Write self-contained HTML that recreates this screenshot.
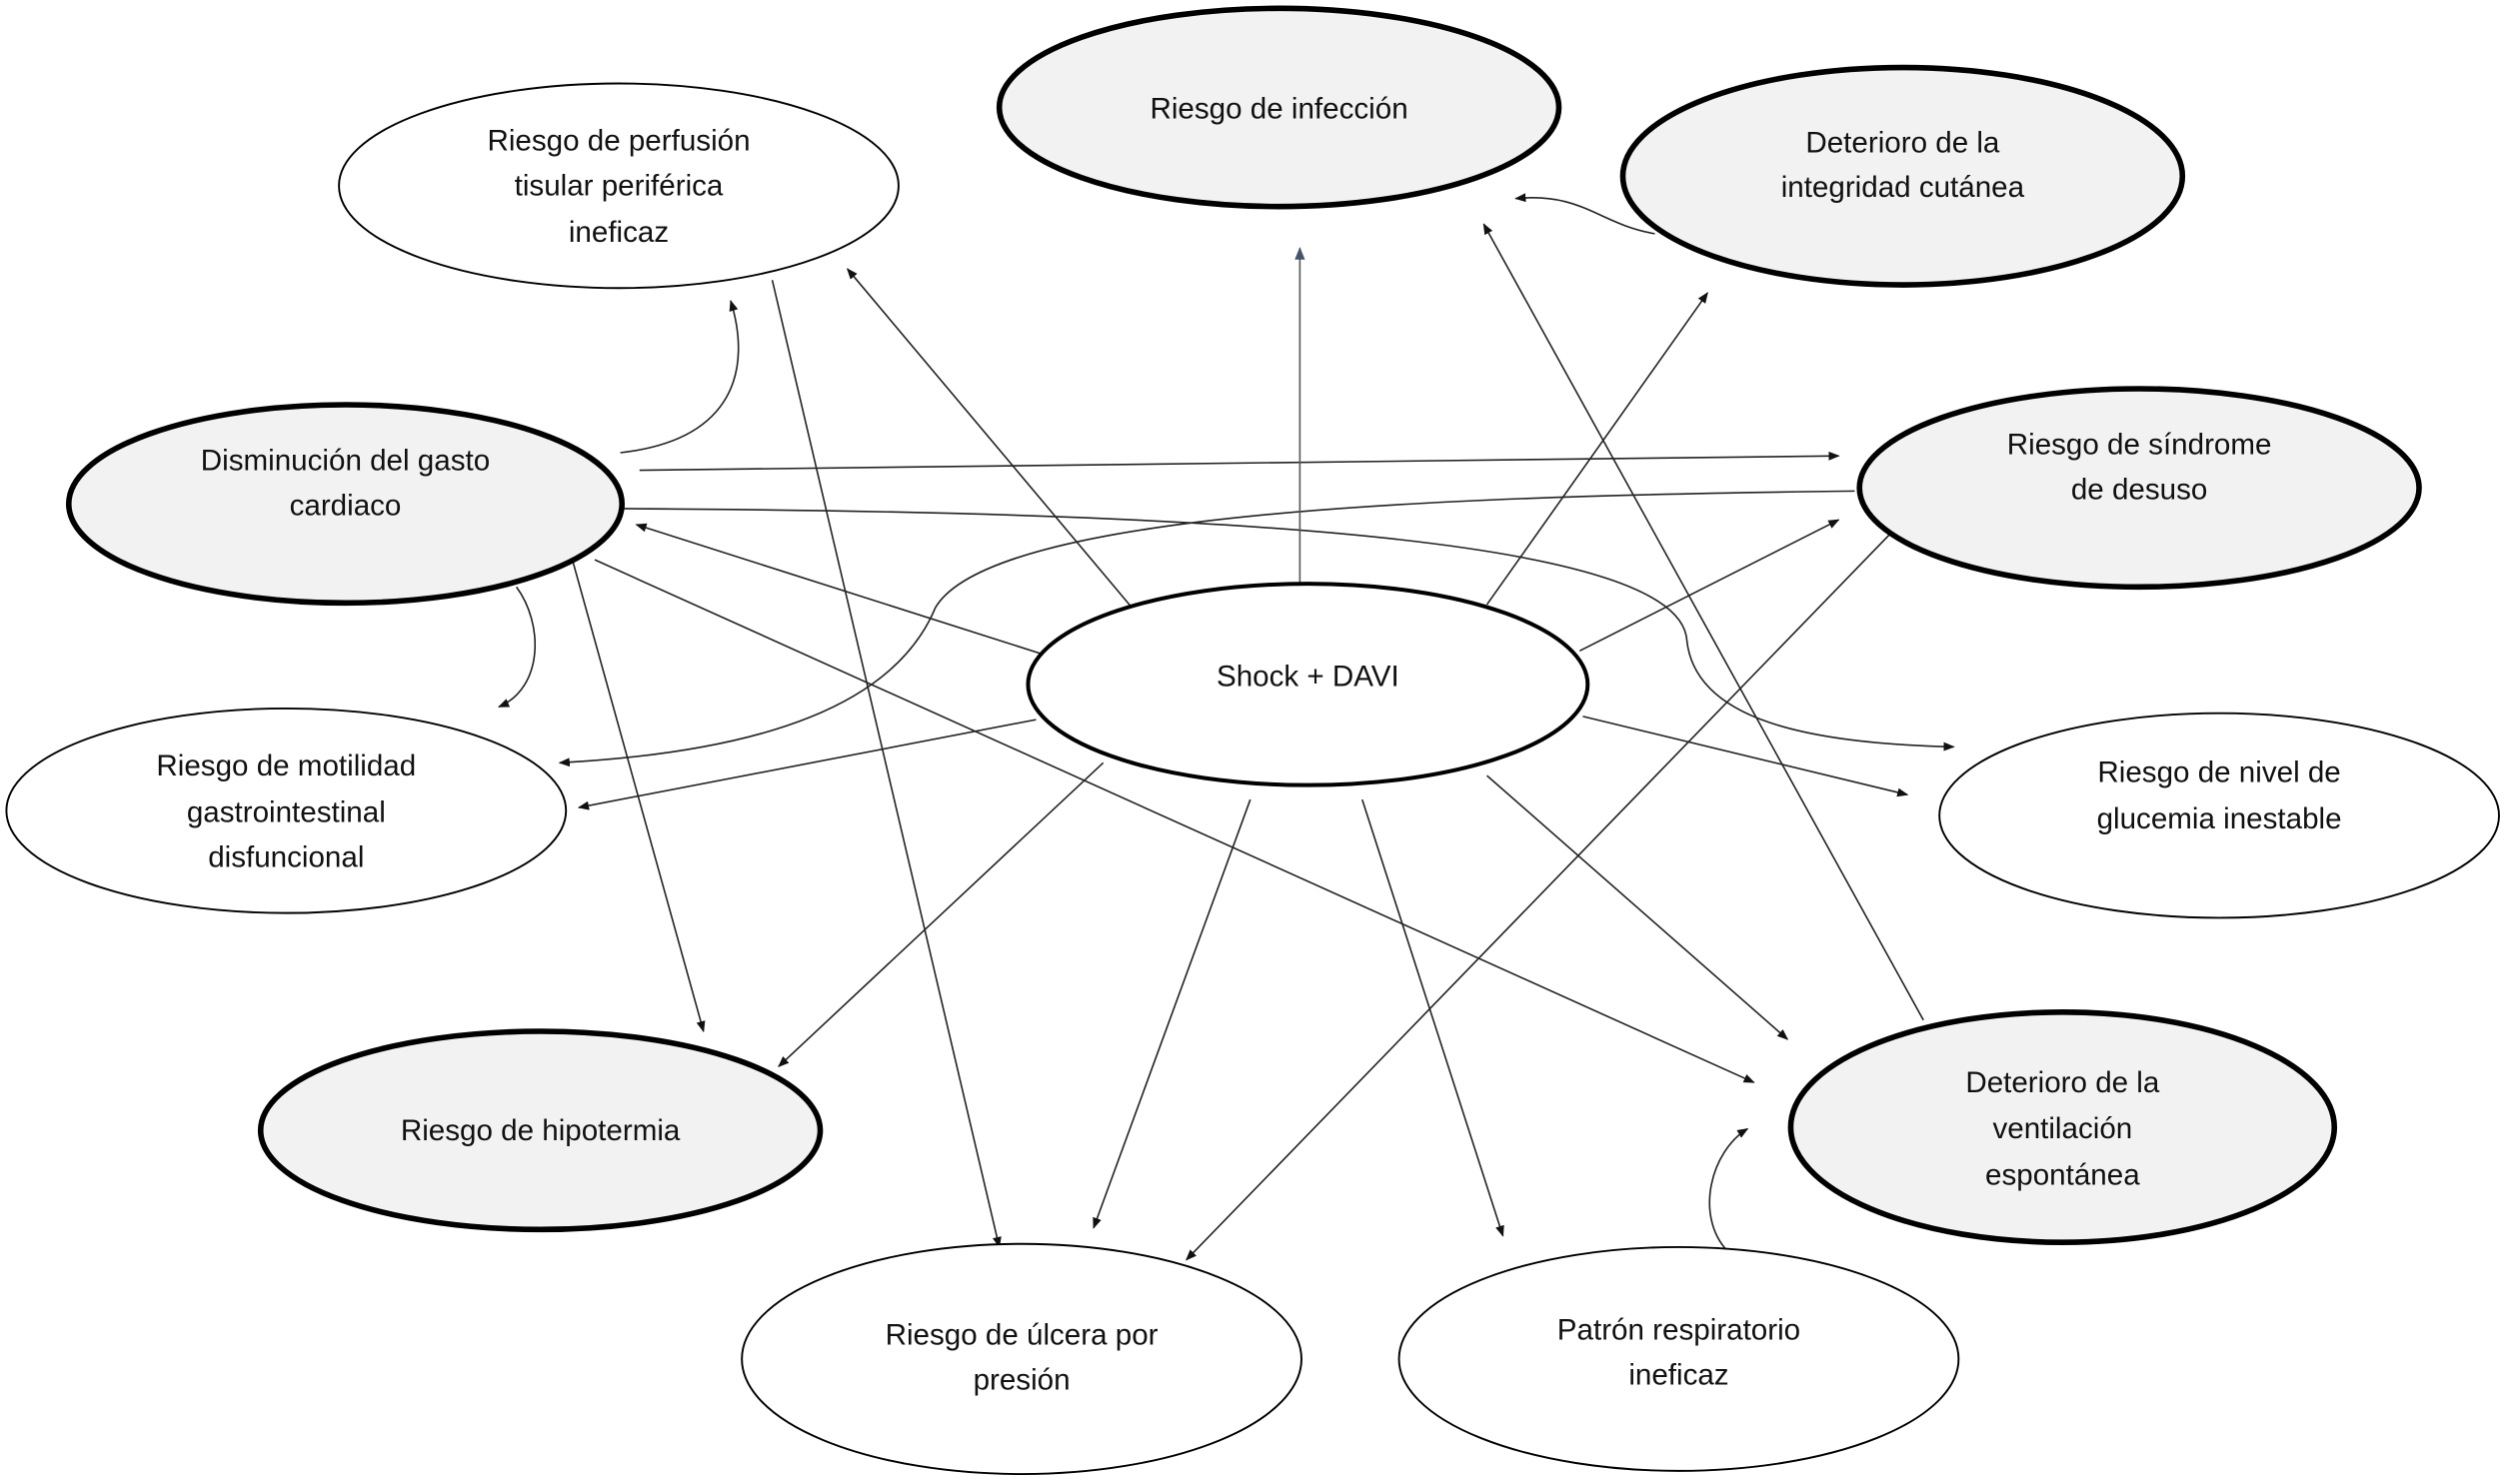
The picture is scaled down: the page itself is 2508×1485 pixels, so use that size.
<!DOCTYPE html>
<html><head><meta charset="utf-8"><style>
html,body{margin:0;padding:0;background:#fff;}
svg{display:block;}
text{font-family:"Liberation Sans",sans-serif;font-size:18.5px;fill:#111;text-anchor:middle;}
</style></head><body>
<svg width="2508" height="1485" viewBox="0 0 1568 928" xmlns="http://www.w3.org/2000/svg">
<defs>
<marker id="a" viewBox="0 0 10 10" refX="9" refY="5" markerWidth="7" markerHeight="7" orient="auto-start-reverse" markerUnits="userSpaceOnUse"><path d="M0,1 L10,5 L0,9 z" fill="#111"/></marker>
<marker id="b" viewBox="0 0 10 10" refX="9" refY="5" markerWidth="8" markerHeight="8" orient="auto" markerUnits="userSpaceOnUse"><path d="M0,1 L10,5 L0,9 z" fill="#44546a"/></marker>
</defs>
<g fill="none" stroke="#222" stroke-width="1" marker-end="url(#a)">
<line x1="708" y1="380" x2="530" y2="168"/>
<line x1="930" y1="378" x2="1068" y2="183"/>
<line x1="988" y1="407" x2="1150" y2="325"/>
<line x1="990" y1="448" x2="1193" y2="497"/>
<line x1="930" y1="485" x2="1118" y2="650"/>
<line x1="852" y1="500" x2="940" y2="773"/>
<line x1="782" y1="500" x2="684" y2="768"/>
<line x1="690" y1="477" x2="487" y2="667"/>
<line x1="648" y1="450" x2="362" y2="505"/>
<line x1="655" y1="410" x2="398" y2="328"/>
<line x1="1203" y1="638" x2="928" y2="140"/>
<line x1="1183" y1="333" x2="742" y2="788"/>
<line x1="483" y1="175" x2="625" y2="780"/>
<path d="M388,283 C460,275 470,230 457,188"/>
<line x1="400" y1="294" x2="1150" y2="285"/>
<path d="M390,318 C800,320 1050,340 1055,400 C1060,450 1130,465 1222,467"/>
<line x1="372" y1="350" x2="1097" y2="677"/>
<line x1="358" y1="350" x2="440" y2="645"/>
<path d="M323,367 C340,390 340,430 312,442"/>
<path d="M1160,307 C900,310 620,320 585,380 C560,440 480,470 350,477"/>
<path d="M1035,146 C1000,140 990,120 948,124"/>
<path d="M1080,782 C1060,760 1070,720 1093,706"/>
</g>
<line x1="813" y1="365" x2="813" y2="155" stroke="#555" stroke-width="1" marker-end="url(#b)"/>
<g stroke="#000">
<ellipse cx="387" cy="116" rx="175" ry="64" fill="#fff" stroke-width="1.2"/>
<ellipse cx="800" cy="67" rx="175" ry="62" fill="#f2f2f2" stroke-width="3.5"/>
<ellipse cx="1190" cy="110" rx="175" ry="68" fill="#f2f2f2" stroke-width="3.5"/>
<ellipse cx="216" cy="315" rx="173" ry="62" fill="#f2f2f2" stroke-width="3.5"/>
<ellipse cx="1338" cy="305" rx="175" ry="62" fill="#f2f2f2" stroke-width="3.5"/>
<ellipse cx="818" cy="428" rx="175" ry="63" fill="#fff" stroke-width="2.5"/>
<ellipse cx="179" cy="507" rx="175" ry="64" fill="#fff" stroke-width="1.2"/>
<ellipse cx="1388" cy="510" rx="175" ry="64" fill="#fff" stroke-width="1.2"/>
<ellipse cx="338" cy="707" rx="175" ry="62" fill="#f2f2f2" stroke-width="3.5"/>
<ellipse cx="1290" cy="705" rx="170" ry="72" fill="#f2f2f2" stroke-width="3.5"/>
<ellipse cx="639" cy="850" rx="175" ry="72" fill="#fff" stroke-width="1.2"/>
<ellipse cx="1050" cy="850" rx="175" ry="70" fill="#fff" stroke-width="1.2"/>
</g>
<text x="387" y="94">Riesgo de perfusión</text>
<text x="387" y="122">tisular periférica</text>
<text x="387" y="151">ineficaz</text>
<text x="800" y="74">Riesgo de infección</text>
<text x="1190" y="95">Deterioro de la</text>
<text x="1190" y="123">integridad cutánea</text>
<text x="216" y="294">Disminución del gasto</text>
<text x="216" y="322">cardiaco</text>
<text x="1338" y="284">Riesgo de síndrome</text>
<text x="1338" y="312">de desuso</text>
<text x="818" y="429">Shock + DAVI</text>
<text x="179" y="485">Riesgo de motilidad</text>
<text x="179" y="514">gastrointestinal</text>
<text x="179" y="542">disfuncional</text>
<text x="1388" y="489">Riesgo de nivel de</text>
<text x="1388" y="518">glucemia inestable</text>
<text x="338" y="713">Riesgo de hipotermia</text>
<text x="1290" y="683">Deterioro de la</text>
<text x="1290" y="712">ventilación</text>
<text x="1290" y="741">espontánea</text>
<text x="639" y="841">Riesgo de úlcera por</text>
<text x="639" y="869">presión</text>
<text x="1050" y="838">Patrón respiratorio</text>
<text x="1050" y="866">ineficaz</text>
</svg>
</body></html>
